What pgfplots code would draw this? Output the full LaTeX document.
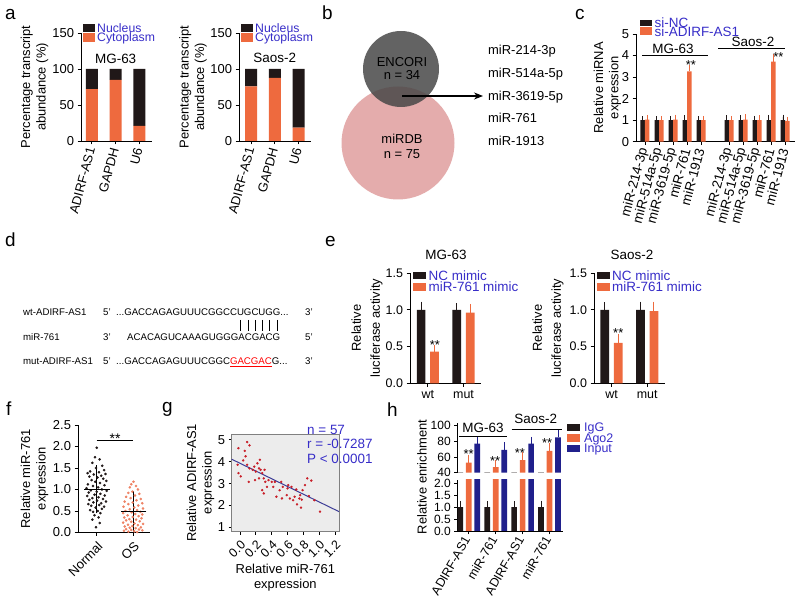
\documentclass[border=0pt]{standalone}
\usepackage{pgfplots}
\pgfplotsset{compat=1.18}
\usepackage{fontspec}
\setmainfont{Liberation Sans}
\usetikzlibrary{arrows.meta}
\definecolor{cOr}{RGB}{238,106,62}
\definecolor{cBk}{RGB}{32,24,24}
\definecolor{cBl}{RGB}{55,45,200}
\definecolor{cNv}{RGB}{32,32,140}
\definecolor{cPk}{RGB}{228,172,172}
\definecolor{cDg}{RGB}{72,72,72}
\definecolor{cOs}{RGB}{238,130,100}
\definecolor{cRd}{RGB}{200,30,40}
\definecolor{cLn}{RGB}{60,60,150}
\definecolor{cBg}{RGB}{236,236,236}
\newcommand\fs[1]{\fontsize{#1}{#1}\selectfont}
\newcommand\fl[2]{\fontsize{#1}{#2}\selectfont}
\pgfplotsset{
  gp/.style={scale only axis, anchor=south west, axis lines*=left, clip=false,
    axis line style={line width=0.9pt, black},
    tick style={line width=0.9pt, black},
    major tick length=3.5bp, tick align=outside,
    tick label style={font=\fs{13}},
    /pgf/number format/assume math mode=true,
    every axis y label/.style={rotate=90, anchor=center, align=center, font=\fl{13}{15.5}},
    every axis x label/.style={anchor=center, align=center, font=\fl{13}{15.5}},
  },
  eb/.style={error bars/.cd, y dir=plus, y explicit,
    error bar style={line width=0.9pt, #1},
    error mark options={#1, line width=0.9pt, mark size=2.2pt}},
  dec1/.style={yticklabel style={/pgf/number format/fixed, /pgf/number format/fixed zerofill, /pgf/number format/precision=1}},
}
\begin{document}
\begin{tikzpicture}[x=1bp,y=1bp]
\useasboundingbox (0,0) rectangle (800,603);
% ---------- panel letters
\node[anchor=base west, inner sep=0, font=\fs{19}] at (5,583) {a};
\node[anchor=base west, inner sep=0, font=\fs{19}] at (322,583) {b};
\node[anchor=base west, inner sep=0, font=\fs{19}] at (575,583) {c};
\node[anchor=base west, inner sep=0, font=\fs{19}] at (5,356) {d};
\node[anchor=base west, inner sep=0, font=\fs{19}] at (325,356) {e};
\node[anchor=base west, inner sep=0, font=\fs{19}] at (6,187) {f};
\node[anchor=base west, inner sep=0, font=\fs{19}] at (162,190) {g};
\node[anchor=base west, inner sep=0, font=\fs{19}] at (387,186) {h};

% ---------- panel a (MG-63)
\begin{axis}[gp, at={(81bp,462bp)}, width=71bp, height=108bp,
  ymin=0, ymax=150, ytick={0,50,100,150}, xmin=-0.46, xmax=2.53,
  xtick={0,1,2}, xticklabels={ADIRF-AS1,GAPDH,U6},
  xticklabel style={rotate=75, anchor=east},
  ybar stacked, bar width=12bp,
  ylabel={Percentage transcript\\abundance (\%)},
  ylabel style={at={(axis description cs:-0.655,0.5)}}]
\addplot[fill=cOr, draw=none] coordinates {(0,72) (1,85) (2,21)};
\addplot[fill=cBk, draw=none] coordinates {(0,28) (1,15) (2,79)};
\node[font=\fs{13.5}] at (axis cs:1,114) {MG-63};
\end{axis}
\fill[cBk] (83,571.3) rectangle (95,579);
\fill[cOr] (83,561) rectangle (95,570);
\node[anchor=base west, inner sep=0, font=\fs{12.3}, text=cBl] at (97,570.8) {Nucleus};
\node[anchor=base west, inner sep=0, font=\fs{12.3}, text=cBl] at (97,561.1) {Cytoplasm};

% ---------- panel a (Saos-2)
\begin{axis}[gp, at={(239bp,462bp)}, width=72bp, height=108bp,
  ymin=0, ymax=150, ytick={0,50,100,150}, xmin=-0.505, xmax=2.526,
  xtick={0,1,2}, xticklabels={ADIRF-AS1,GAPDH,U6},
  xticklabel style={rotate=75, anchor=east},
  ybar stacked, bar width=12bp,
  ylabel={Percentage transcript\\abundance (\%)},
  ylabel style={at={(axis description cs:-0.639,0.5)}}]
\addplot[fill=cOr, draw=none] coordinates {(0,76) (1,87.5) (2,18.5)};
\addplot[fill=cBk, draw=none] coordinates {(0,24) (1,12.5) (2,81.5)};
\node[font=\fs{13.5}] at (axis cs:1,115) {Saos-2};
\end{axis}
\fill[cBk] (241,571.3) rectangle (253,579);
\fill[cOr] (241,561) rectangle (253,570);
\node[anchor=base west, inner sep=0, font=\fs{12.3}, text=cBl] at (255,570.8) {Nucleus};
\node[anchor=base west, inner sep=0, font=\fs{12.3}, text=cBl] at (255,561.1) {Cytoplasm};

% ---------- panel b (Venn)
\fill[cPk] (398,460) circle (56.5);
\fill[cDg, opacity=0.85] (401,534) circle (38);
\node[font=\fs{13}, text=black] at (402,541.3) {ENCORI};
\node[font=\fs{13}, text=black] at (402,527.5) {n = 34};
\node[font=\fs{13}, text=black] at (402,464) {miRDB};
\node[font=\fs{13}, text=black] at (402,449) {n = 75};
\draw[line width=1.1pt, -{Stealth[length=9bp,width=7bp]}] (402,507) -- (483,507);
\node[anchor=base west, inner sep=0, font=\fs{13}] at (488,548.4) {miR-214-3p};
\node[anchor=base west, inner sep=0, font=\fs{13}] at (488,525.4) {miR-514a-5p};
\node[anchor=base west, inner sep=0, font=\fs{13}] at (488,502.4) {miR-3619-5p};
\node[anchor=base west, inner sep=0, font=\fs{13}] at (488,480.4) {miR-761};
\node[anchor=base west, inner sep=0, font=\fs{13}] at (488,457.4) {miR-1913};

% ---------- panel c
\begin{axis}[gp, at={(636bp,461.3bp)}, width=159bp, height=107.7bp,
  ymin=0, ymax=5, ytick={0,1,2,3,4,5}, xmin=-0.64, xmax=10.7,
  xtick={0,1,2,3,4,6,7,8,9,10},
  xticklabels={miR-214-3p,miR-514a-5p,miR-3619-5p,miR-761,miR-1913,miR-214-3p,miR-514a-5p,miR-3619-5p,miR-761,miR-1913},
  xticklabel style={rotate=75, anchor=east, font=\fs{13.5}},
  ybar=0pt, bar width=4.5bp,
  ylabel={Relative miRNA\\expression},
  ylabel style={at={(axis description cs:-0.18,0.5)}}]
\addplot[fill=cBk, draw=none, eb=cBk] coordinates {
 (0,1.0) +- (0,0.08) (1,1.0) +- (0,0.08) (2,1.0) +- (0,0.1) (3,1.0) +- (0,0.12) (4,1.0) +- (0,0.08)
 (6,1.0) +- (0,0.12) (7,1.0) +- (0,0.12) (8,1.0) +- (0,0.1) (9,1.0) +- (0,0.14) (10,1.0) +- (0,0.15)};
\addplot[fill=cOr, draw=none, eb=cOr] coordinates {
 (0,1.02) +- (0,0.12) (1,1.0) +- (0,0.1) (2,1.03) +- (0,0.12) (3,3.27) +- (0,0.2) (4,1.0) +- (0,0.1)
 (6,1.0) +- (0,0.1) (7,1.03) +- (0,0.15) (8,1.0) +- (0,0.12) (9,3.72) +- (0,0.23) (10,0.97) +- (0,0.08)};
\draw[line width=0.9pt] (axis cs:-0.21,4.0) -- (axis cs:4.5,4.0);
\node[font=\fs{13.5}] at (axis cs:2.0,4.3) {MG-63};
\draw[line width=0.9pt] (axis cs:5.21,4.35) -- (axis cs:10,4.35);
\node[font=\fs{13.5}] at (axis cs:7.7,4.64) {Saos-2};
\node[font=\fs{13}] at (axis cs:3.28,3.55) {**};
\node[font=\fs{13}] at (axis cs:9.52,3.94) {**};
\end{axis}
\fill[cBk] (640,576.5) rectangle (652,583);
\fill[cOr] (640,568) rectangle (652,575.5);
\node[anchor=base west, inner sep=0, font=\fs{13.5}, text=cBl] at (654.5,575.7) {si-NC};
\node[anchor=base west, inner sep=0, font=\fs{13.5}, text=cBl] at (654.5,566.7) {si-ADIRF-AS1};

% ---------- panel d
\begin{scope}[every node/.style={anchor=base west, inner sep=0, font=\fs{9.7}}]
\node at (23,287.1) {wt-ADIRF-AS1};
\node at (103,287.1) {5'};
\node at (116,287.1) {...GACCAGAGUUUCGGCCUGCUGG...};
\node at (305,287.1) {3'};
\node at (23,262.1) {miR-761};
\node at (103,262.1) {3'};
\node at (127,262.1) {ACACAGUCAAAGUGGGACGACG};
\node at (305,262.1) {5'};
\node at (23,238.1) {mut-ADIRF-AS1};
\node at (103,238.1) {5'};
\node at (116,238.1) {...GACCAGAGUUUCGGC\textcolor{red}{\underline{GACGAC}}G...};
\node at (305,238.1) {3'};
\end{scope}
\foreach \bx in {240.8,248,255.3,262.3,269.6,277.1}{\draw[line width=0.8pt] (\bx,283) -- (\bx,271.5);}

% ---------- panel e (MG-63)
\begin{axis}[gp, dec1, at={(410bp,219.7bp)}, width=71bp, height=110.3bp,
  ymin=0, ymax=1.5, ytick={0,0.5,1,1.5}, xmin=-0.5, xmax=1.49,
  xtick={0,1}, xticklabels={wt,mut},
  yticklabel style={font=\fs{12.5}}, xticklabel style={font=\fs{12.5}},
  ybar=4.7bp, bar width=8.7bp,
  ylabel={Relative\\luciferase activity},
  ylabel style={font=\fl{13}{19}, at={(axis description cs:-0.606,0.5)}}]
\addplot[fill=cBk, draw=none, eb=cBk] coordinates {(0,1.0) +- (0,0.08) (1,1.0) +- (0,0.06)};
\addplot[fill=cOr, draw=none, eb=cOr] coordinates {(0,0.43) +- (0,0.06) (1,0.96) +- (0,0.09)};
\node[font=\fs{13}] at (axis cs:0.2,0.515) {**};
\end{axis}
\node[font=\fs{13.5}] at (446,348) {MG-63};
\fill[cBk] (413,323.7) rectangle (426,331.3);
\fill[cOr] (413,312.3) rectangle (426,320);
\node[anchor=base west, inner sep=0, font=\fs{13.5}, text=cBl] at (428.5,322.7) {NC mimic};
\node[anchor=base west, inner sep=0, font=\fs{13.5}, text=cBl] at (428.5,311.2) {miR-761 mimic};

% ---------- panel e (Saos-2)
\begin{axis}[gp, dec1, at={(594bp,219.7bp)}, width=71bp, height=110.3bp,
  ymin=0, ymax=1.5, ytick={0,0.5,1,1.5}, xmin=-0.49, xmax=1.499,
  xtick={0,1}, xticklabels={wt,mut},
  yticklabel style={font=\fs{12.5}}, xticklabel style={font=\fs{12.5}},
  ybar=4.7bp, bar width=8.7bp,
  ylabel={Relative\\luciferase activity},
  ylabel style={font=\fl{13}{19}, at={(axis description cs:-0.648,0.5)}}]
\addplot[fill=cBk, draw=none, eb=cBk] coordinates {(0,1.0) +- (0,0.07) (1,1.0) +- (0,0.08)};
\addplot[fill=cOr, draw=none, eb=cOr] coordinates {(0,0.55) +- (0,0.09) (1,0.98) +- (0,0.1)};
\node[font=\fs{13}] at (axis cs:0.19,0.68) {**};
\end{axis}
\node[font=\fs{13.5}] at (632,348) {Saos-2};
\fill[cBk] (597,323.7) rectangle (610,331.3);
\fill[cOr] (597,312.3) rectangle (610,320);
\node[anchor=base west, inner sep=0, font=\fs{13.5}, text=cBl] at (612,322.7) {NC mimic};
\node[anchor=base west, inner sep=0, font=\fs{13.5}, text=cBl] at (612,311.2) {miR-761 mimic};

% ---------- panel f
\begin{axis}[gp, dec1, at={(78bp,70.5bp)}, width=72bp, height=107.5bp,
  ymin=0, ymax=2.5, ytick={0,0.5,1,1.5,2,2.5}, xmin=-0.51, xmax=1.45,
  xtick={0,1}, xticklabels={Normal,OS},
  xticklabel style={rotate=45, anchor=north east},
  ylabel={Relative miR-761\\expression},
  ylabel style={at={(axis description cs:-0.604,0.5)}}]
\addplot[only marks, mark=*, mark size=1.1pt, color=cBk] coordinates {
(0.00,1.97) (-0.05,1.75) (0.08,1.70) (-0.12,1.62) (0.15,1.55) (-0.02,1.50) (0.20,1.45) (-0.18,1.42)
(0.06,1.40) (-0.25,1.38) (0.24,1.36) (-0.08,1.35) (0.12,1.32) (-0.20,1.30) (0.02,1.28) (0.18,1.25)
(-0.14,1.22) (0.26,1.20) (-0.04,1.18) (0.09,1.15) (-0.24,1.12) (0.21,1.10) (-0.10,1.08) (0.04,1.05)
(-0.28,1.03) (0.14,1.00) (-0.16,0.98) (0.27,0.97) (0.00,0.95) (-0.22,0.93) (0.10,0.90) (-0.06,0.88)
(0.22,0.86) (-0.26,0.85) (0.05,0.82) (-0.12,0.80) (0.17,0.78) (-0.20,0.76) (0.01,0.74) (0.25,0.72)
(-0.09,0.70) (0.12,0.68) (-0.23,0.66) (0.07,0.64) (-0.15,0.62) (0.20,0.60) (-0.03,0.58) (0.14,0.55)
(-0.18,0.52) (0.03,0.50) (-0.10,0.48) (0.10,0.45) (-0.06,0.40) (0.05,0.35) (-0.12,0.30) (0.08,0.22) (-0.02,0.12)};
\addplot[only marks, mark=*, mark size=1.1pt, color=cOs] coordinates {
(1.00,1.18) (0.94,1.12) (1.07,1.08) (0.90,1.05) (1.12,1.00) (0.97,0.95) (0.86,0.92) (1.16,0.90)
(1.04,0.86) (0.80,0.83) (0.92,0.80) (1.20,0.78) (1.08,0.75) (0.76,0.72) (0.98,0.70) (1.24,0.68)
(0.86,0.66) (1.13,0.63) (0.73,0.60) (1.02,0.58) (1.26,0.56) (0.90,0.54) (1.10,0.52) (0.78,0.50)
(1.19,0.48) (0.95,0.47) (0.72,0.45) (1.05,0.43) (1.24,0.42) (0.84,0.40) (1.14,0.38) (0.98,0.36)
(0.75,0.35) (1.22,0.33) (0.89,0.31) (1.07,0.30) (0.80,0.28) (1.17,0.26) (0.94,0.25) (0.72,0.23)
(1.03,0.21) (1.26,0.20) (0.85,0.18) (1.12,0.17) (0.97,0.15) (0.76,0.14) (1.20,0.12) (0.90,0.11)
(1.06,0.10) (0.80,0.08) (1.15,0.07) (0.94,0.06) (1.24,0.05) (0.74,0.04) (1.02,0.03) (0.86,0.02) (1.10,0.01)};
\addplot[only marks, mark=-, mark size=13pt, line width=1.2pt, color=black,
  error bars/.cd, y dir=both, y explicit, error bar style={line width=1.2pt, black},
  error mark options={black, line width=1.2pt, mark size=8pt}]
  coordinates {(0,1.005) +- (0,0.375) (1,0.48) +- (0,0.30)};
\draw[line width=1pt] (axis cs:0,2.13) -- (axis cs:1,2.13);
\node[font=\fs{14}] at (axis cs:0.5,2.19) {**};
\end{axis}

% ---------- panel g
\begin{axis}[scale only axis, anchor=south west, clip=false, axis lines=box,
  at={(231.7bp,71.3bp)}, width=107.3bp, height=97.7bp,
  xmin=-0.105, xmax=1.25, ymin=0.8, ymax=5.27,
  axis background/.style={fill=cBg},
  axis line style={draw=gray, line width=0.8pt},
  tick style={line width=0.8pt, black}, tick align=outside,
  tick pos=left, major tick length=3bp,
  tick label style={font=\fs{13}},
  /pgf/number format/assume math mode=true,
  xtick={0,0.2,0.4,0.6,0.8,1.0,1.2}, ytick={1,2,3,4,5},
  xticklabel style={rotate=45, anchor=north east, font=\fs{12.5}, /pgf/number format/fixed, /pgf/number format/fixed zerofill, /pgf/number format/precision=1},
  every axis y label/.style={at={(axis description cs:-0.291,0.5)}, rotate=90, anchor=center, align=center, font=\fl{13}{15.5}},
  every axis x label/.style={at={(axis description cs:0.5,-0.47)}, anchor=center, align=center, font=\fl{13}{15.5}},
  ylabel={Relative ADIRF-AS1\\expression},
  xlabel={Relative miR-761\\expression}]
\addplot[only marks, mark=*, mark size=1.0pt, color=cRd] coordinates {
(-0.02,4.62) (-0.03,3.86) (-0.02,3.48) (0.01,3.33) (0.06,4.50) (0.07,4.25) (0.04,4.06) (0.09,4.90)
(0.12,4.75) (0.09,3.86) (0.12,3.70) (0.11,3.08) (0.16,3.63) (0.18,3.78) (0.20,3.55) (0.22,3.93)
(0.24,3.70) (0.24,3.24) (0.19,3.16) (0.26,3.63) (0.28,3.48) (0.25,4.09) (0.30,3.24) (0.31,3.63)
(0.32,3.08) (0.28,2.70) (0.30,2.55) (0.34,2.85) (0.36,3.16) (0.40,3.08) (0.42,2.85) (0.44,3.08)
(0.46,2.40) (0.50,2.70) (0.52,3.08) (0.54,2.85) (0.59,2.47) (0.60,2.78) (0.61,2.93) (0.65,2.85)
(0.53,2.32) (0.63,2.32) (0.67,2.24) (0.69,2.40) (0.71,2.73) (0.75,2.32) (0.76,2.47) (0.78,2.27)
(0.72,2.05) (0.79,2.70) (0.77,1.90) (0.82,2.93) (0.85,3.24) (0.87,2.43) (0.90,3.14) (0.94,2.24)
(1.01,1.72)};
\addplot[color=cLn, line width=1pt] coordinates {(-0.105,4.116) (1.25,1.718)};
\end{axis}
\node[anchor=base west, inner sep=0, font=\fs{13.5}, text=cBl] at (307,168.2) {n = 57};
\node[anchor=base west, inner sep=0, font=\fs{13.5}, text=cBl] at (307,154.2) {r = -0.7287};
\node[anchor=base west, inner sep=0, font=\fs{13.5}, text=cBl] at (307,139.2) {P < 0.0001};

% ---------- panel h (bottom part)
\begin{axis}[gp, dec1, clip=true, at={(457.7bp,72bp)}, width=105.3bp, height=51bp,
  ymin=0, ymax=2.14, ytick={0,0.5,1,1.5,2}, xmin=-0.41, xmax=3.5,
  yticklabel style={font=\fs{12}},
  xtick={0,1,2,3}, xticklabels={ADIRF-AS1,miR-761,ADIRF-AS1,miR-761},
  xticklabel style={rotate=60, anchor=east, font=\fs{12.5}},
  ybar=2.8bp, bar width=5.7bp]
\addplot[fill=cBk, draw=none, eb=cBk] coordinates {(0,1.0) +- (0,0.17) (1,1.0) +- (0,0.15) (2,1.0) +- (0,0.16) (3,1.0) +- (0,0.18)};
\addplot[fill=cOr, draw=none, eb=cOr] coordinates {(0,53) +- (0,7) (1,47) +- (0,6) (2,56) +- (0,7) (3,68) +- (0,7)};
\addplot[fill=cNv, draw=none, eb=cNv] coordinates {(0,77) +- (0,6) (1,69) +- (0,7) (2,77) +- (0,6) (3,85) +- (0,8)};
\end{axis}
% ---------- panel h (top part)
\begin{axis}[gp, clip=true, at={(457.7bp,130.3bp)}, width=105.3bp, height=49.7bp,
  axis x line=none, axis y line*=left,
  ymin=40, ymax=103.5, ytick={40,60,80,100}, xmin=-0.41, xmax=3.5,
  yticklabel style={font=\fs{12}},
  ybar=2.8bp, bar width=5.7bp]
\addplot[fill=cBk, draw=none, eb=cBk] coordinates {(0,1.0) +- (0,0.17) (1,1.0) +- (0,0.15) (2,1.0) +- (0,0.16) (3,1.0) +- (0,0.18)};
\addplot[fill=cOr, draw=none, eb=cOr] coordinates {(0,53) +- (0,7) (1,47) +- (0,6) (2,56) +- (0,7) (3,68) +- (0,7)};
\addplot[fill=cNv, draw=none, eb=cNv] coordinates {(0,77) +- (0,6) (1,69) +- (0,7) (2,77) +- (0,6) (3,85) +- (0,8)};
\node[font=\fs{13}] at (axis cs:0,63.6) {**};
\node[font=\fs{13}] at (axis cs:0.98,55) {**};
\node[font=\fs{13}] at (axis cs:1.9,64.6) {**};
\node[font=\fs{13}] at (axis cs:2.91,78.3) {**};
\end{axis}
\node[rotate=90, font=\fs{13}] at (422,126) {Relative enrichment};
\draw[line width=0.9pt] (459,166.3) -- (506.7,166.3);
\node[font=\fs{13.5}] at (483,175) {MG-63};
\draw[line width=0.9pt] (511.7,174) -- (561.7,174);
\node[font=\fs{13.5}] at (535.7,184) {Saos-2};
\fill[cBk] (567,171.7) rectangle (580,179.3);
\fill[cOr] (567,161.2) rectangle (580,168.8);
\fill[cNv] (567,150.7) rectangle (580,158.3);
\node[anchor=base west, inner sep=0, font=\fs{12.5}, text=cBl] at (584,171) {IgG};
\node[anchor=base west, inner sep=0, font=\fs{12.5}, text=cBl] at (584,160.5) {Ago2};
\node[anchor=base west, inner sep=0, font=\fs{12.5}, text=cBl] at (584,150) {Input};
\end{tikzpicture}
\end{document}
